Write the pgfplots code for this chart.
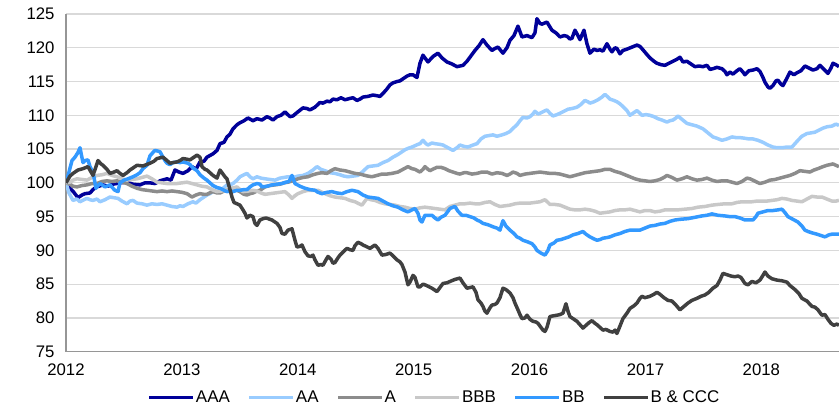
\documentclass[border=0pt]{standalone}
\usepackage{fontspec}
\setmainfont{Liberation Sans}
\usepackage{pgfplots}
\pgfplotsset{compat=1.18}
\definecolor{cAAA}{RGB}{0,0,153}
\definecolor{cAA}{RGB}{153,204,255}
\definecolor{cA}{RGB}{140,140,140}
\definecolor{cBBB}{RGB}{200,200,200}
\definecolor{cBB}{RGB}{51,153,255}
\definecolor{cB}{RGB}{64,64,64}
\definecolor{gridgray}{RGB}{217,217,217}
\definecolor{axisgray}{RGB}{150,150,150}
\begin{document}
\begin{tikzpicture}
\begin{axis}[
  at={(0,0)}, anchor=south west,
  scale only axis, width=773bp, height=337.7bp,
  xmin=2012, xmax=2018.67, ymin=75, ymax=125,
  x filter/.expression={2012+(x-66)/115.9},
  ytick={75,80,...,125}, xtick={2012,2013,2014,2015,2016,2017,2018},
  /pgf/number format/1000 sep={},
  /pgf/number format/assume math mode=true,
  ymajorgrids, grid style={color=gridgray, line width=1.2bp},
  axis x line*=bottom, axis y line*=left,
  axis line style={-, color=axisgray, line width=1.3bp},
  major tick length=0, tick style={draw=none},
  tick label style={font=\fontsize{16.8}{19}\selectfont},
  yticklabel style={xshift=-8bp},
  xticklabel style={yshift=-8.5bp},
  every axis plot/.append style={line width=3.5bp, line join=round, mark=none},
  legend columns=6,
  legend style={at={(0.476,-0.135)}, anchor=center, draw=none, fill=none,
    font=\fontsize{17}{19}\selectfont,
    /tikz/every even column/.append style={column sep=17bp},
    nodes={inner sep=0.8bp}},
  legend image code/.code={\draw[#1] (0bp,0bp) -- (44bp,0bp);},
]
\addplot[cAAA] coordinates {
(66,100) (70,99.2) (73.3,98.7) (78,97.8) (82,98.2) (85,98.4) (90,98.5) (93,99.0) (96.7,99.4) (103,99.7) (108,99.5) (113,99.8) (120,100.0) (127,100.1) (133,99.8) (140,99.7) (145,100.0) (150,100.0) (155,99.9) (160,100.3) (167,100.6) (171,100.4) (175,101.9) (179,101.6) (183,101.4) (188,101.8) (192,102.4) (196,102.0) (200,103.1) (204,103.2) (207,103.8) (213,104.3) (217,104.8) (220,105.8) (224,106.0) (227,106.8) (230,107.2) (233,108.0) (237,108.6) (240,108.9) (244,109.2) (248,109.6) (253,109.2) (257,109.5) (262,109.3) (267,109.8) (270,109.6) (273,109.3) (277,109.8) (281,110.0) (285,110.5) (290,109.8) (293,109.9) (297,110.4) (303,111.1) (307,111.0) (310,110.8) (315,111.2) (320,111.9) (323,111.8) (327,112.1) (330,112.0) (333,112.4) (337,112.3) (341,112.6) (345,112.3) (350,112.5) (353,112.6) (357,112.2) (360,112.4) (363,112.7) (368,112.8) (373,113.0) (377,112.9) (380,112.8) (384,113.4) (387,113.9) (390,114.5) (393,114.8) (397,115.0) (400,115.1) (403,115.4) (407,115.8) (410,116.0) (413,116.0) (417,115.6) (420,117.7) (423,118.9) (428,117.9) (433,118.7) (438,119.2) (442,118.5) (447,117.9) (452,117.6) (457,117.2) (460,117.3) (463,117.4) (467,118.0) (470,118.6) (475,119.6) (479,120.3) (483,121.2) (487,120.4) (492,119.6) (495,119.9) (498,120.1) (503,119.2) (507,120.0) (510,121.1) (514,121.8) (518,123.2) (522,121.6) (527,121.8) (532,121.5) (535,122.2) (537,124.3) (540,123.6) (542,123.5) (547,123.8) (552,122.6) (556,122.2) (560,121.6) (564,121.8) (567,121.7) (570,121.3) (572,121.4) (575,122.6) (578,121.8) (580,121.2) (584,122.6) (587,120.6) (590,119.2) (594,119.8) (597,119.6) (600,119.7) (603,119.5) (607,120.6) (610,119.8) (612,119.4) (615,120.0) (617,119.9) (620,119.1) (623,119.6) (627,119.8) (632,120.1) (637,120.4) (640,120.2) (643,119.7) (647,119.0) (650,118.5) (654,118.0) (657,117.7) (661,117.5) (665,117.4) (669,117.7) (673,118.0) (677,118.3) (680,118.6) (683,117.9) (687,118.0) (690,117.7) (695,117.2) (699,117.3) (703,117.2) (707,117.4) (710,116.8) (713,116.9) (717,117.1) (722,116.9) (725,116.5) (727,116.0) (730,116.4) (733,116.1) (737,116.6) (740,116.9) (743,116.4) (745,116.0) (749,116.6) (753,116.7) (757,116.9) (760,116.5) (763,115.6) (765,114.9) (768,114.2) (770,114.0) (773,114.4) (776,115.1) (778,115.2) (781,114.6) (783,114.4) (787,115.5) (790,116.4) (794,116.0) (797,116.3) (801,116.6) (805,117.3) (809,117.0) (813,116.7) (817,116.9) (820,117.4) (824,116.8) (828,116.2) (831,117.0) (833,117.7) (836,117.5) (839,117.2)
};
\addlegendentry{AAA}
\addplot[cAA] coordinates {
(66,100) (69,98.5) (73,97.4) (77,97.6) (80,97.2) (84,97.5) (87,97.7) (90,97.5) (93,97.4) (97,97.6) (100,97.2) (105,97.5) (110,97.9) (114,97.8) (118,97.7) (122,97.3) (127,96.9) (130,97.3) (133,97.4) (137,97.0) (142,96.9) (147,96.7) (152,96.9) (157,96.8) (162,96.9) (167,96.7) (172,96.5) (177,96.4) (180,96.6) (183,96.5) (188,96.9) (193,97.2) (196,97.0) (200,97.5) (204,97.9) (207,98.2) (210,98.4) (213,98.7) (217,98.7) (220,98.9) (224,99.3) (227,99.7) (230,99.7) (233,99.9) (237,100.4) (240,100.9) (244,101.2) (247,101.4) (250,100.9) (253,100.6) (257,100.9) (261,100.7) (265,100.6) (270,100.5) (275,100.4) (280,100.7) (284,100.8) (288,100.9) (293,100.8) (298,101.0) (303,101.1) (308,101.4) (313,101.9) (317,102.4) (321,102.0) (325,101.8) (330,101.5) (335,101.4) (340,101.2) (344,101.0) (348,100.9) (353,101.0) (358,101.1) (363,101.7) (368,102.4) (373,102.5) (378,102.6) (383,103.0) (388,103.3) (393,103.8) (398,104.2) (402,104.6) (405,104.9) (408,105.1) (412,105.3) (415,105.5) (418,105.7) (420,105.8) (423,106.3) (426,105.8) (428,105.6) (432,105.9) (435,105.8) (440,105.7) (443,105.6) (448,105.2) (453,104.8) (457,105.2) (460,105.6) (464,105.4) (468,105.3) (473,105.6) (477,105.8) (481,106.5) (485,106.9) (489,107.0) (493,107.1) (497,106.9) (502,107.1) (506,107.3) (510,107.6) (514,108.2) (517,108.6) (520,109.2) (523,109.7) (527,109.6) (530,109.8) (533,110.2) (535,110.6) (538,110.2) (540,110.3) (544,110.6) (547,110.8) (550,110.3) (553,109.9) (557,110.1) (560,110.3) (564,110.6) (568,110.9) (572,111.0) (577,111.2) (581,111.6) (585,112.2) (588,112.0) (590,111.8) (594,112.0) (598,112.3) (602,112.7) (605,113.1) (608,112.7) (610,112.4) (614,112.2) (617,112.0) (620,111.7) (623,111.3) (627,110.7) (630,110.0) (634,110.4) (637,110.7) (640,110.3) (642,110.0) (646,110.1) (650,110.0) (654,109.8) (658,109.5) (662,109.3) (667,109.0) (670,109.2) (673,109.3) (676,109.6) (678,109.9) (682,109.4) (687,108.8) (692,108.6) (697,108.4) (700,108.2) (703,108.0) (708,107.4) (713,106.8) (717,106.6) (722,106.3) (727,106.5) (732,106.8) (736,106.7) (740,106.7) (745,106.6) (749,106.5) (753,106.5) (758,106.3) (763,106.0) (768,105.6) (773,105.3) (777,105.2) (782,105.2) (787,105.3) (792,105.3) (795,105.8) (798,106.3) (802,106.9) (807,107.3) (811,107.4) (815,107.5) (819,107.8) (823,108.1) (827,108.3) (832,108.4) (836,108.7) (839,108.5)
};
\addlegendentry{AA}
\addplot[cA] coordinates {
(66,100) (70,99.8) (73,99.5) (77,99.4) (82,99.6) (87,99.7) (92,99.9) (97,99.9) (102,100.2) (107,100.3) (112,100.2) (117,100.3) (122,100.1) (127,99.9) (132,99.5) (137,99.2) (142,99.0) (147,98.9) (152,98.8) (157,98.7) (162,98.8) (167,98.7) (172,98.8) (177,98.7) (182,98.6) (187,98.4) (190,98.1) (192,97.9) (196,98.2) (200,98.4) (204,98.3) (207,98.3) (211,98.6) (213,98.7) (217,98.5) (220,98.5) (224,98.8) (227,98.9) (230,99.1) (233,99.2) (237,98.9) (240,98.7) (244,98.3) (247,98.2) (250,98.4) (253,98.5) (257,98.8) (260,98.9) (263,99.2) (265,99.4) (270,99.6) (275,99.7) (280,99.8) (284,100.0) (288,100.1) (293,100.3) (298,100.6) (303,100.8) (308,100.9) (313,101.2) (318,101.4) (322,101.5) (327,101.4) (331,101.8) (335,102.1) (340,101.9) (345,101.8) (350,101.6) (355,101.4) (360,101.3) (365,101.1) (368,101.0) (372,100.9) (377,101.1) (382,101.3) (387,101.3) (392,101.4) (398,101.6) (403,102.0) (408,102.4) (412,102.1) (415,102.0) (420,101.6) (423,102.0) (425,102.4) (428,102.0) (430,101.8) (434,102.1) (437,102.3) (441,102.3) (445,102.1) (449,101.8) (453,101.6) (457,101.4) (460,101.3) (464,101.5) (467,101.5) (472,101.3) (477,101.4) (482,101.6) (487,101.6) (492,101.3) (497,101.5) (502,101.4) (507,101.1) (510,101.3) (513,101.6) (517,101.4) (520,101.1) (525,101.3) (530,101.4) (535,101.5) (540,101.6) (545,101.5) (550,101.4) (555,101.4) (560,101.3) (565,101.1) (570,100.9) (575,101.1) (580,101.3) (585,101.5) (590,101.6) (595,101.7) (600,101.8) (605,102.0) (610,102.0) (615,101.7) (620,101.5) (625,101.2) (630,100.9) (635,100.6) (640,100.4) (645,100.3) (650,100.2) (655,100.3) (660,100.5) (664,100.8) (667,101.1) (672,100.8) (677,100.4) (682,100.6) (687,100.9) (692,100.6) (697,100.4) (702,100.5) (707,100.7) (712,100.4) (717,100.2) (722,100.3) (727,100.3) (732,100.1) (737,99.9) (742,100.2) (747,100.7) (750,100.6) (753,100.4) (757,100.1) (760,99.9) (765,100.1) (770,100.4) (775,100.5) (780,100.7) (785,100.9) (790,101.1) (795,101.4) (800,101.8) (805,101.7) (810,101.6) (814,101.9) (818,102.1) (823,102.4) (827,102.6) (830,102.7) (833,102.8) (836,102.6) (839,102.4)
};
\addlegendentry{A}
\addplot[cBBB] coordinates {
(66,100) (70,100.1) (73,100.4) (77,100.6) (82,100.5) (87,100.4) (92,100.8) (97,101.1) (102,101.2) (107,101.4) (112,101.1) (117,100.9) (122,100.6) (127,100.4) (132,100.5) (137,100.6) (142,100.8) (147,101.0) (152,100.6) (157,100.1) (162,100.0) (167,99.9) (172,99.9) (177,99.9) (182,100.0) (187,100.1) (192,99.9) (197,99.7) (202,99.5) (207,99.4) (212,99.0) (217,98.7) (222,98.8) (227,98.9) (232,99.2) (237,99.4) (240,99.0) (243,98.7) (248,98.8) (253,98.9) (257,98.8) (261,98.5) (265,98.3) (270,98.4) (275,98.5) (280,98.6) (285,98.7) (289,98.2) (292,97.7) (295,98.1) (298,98.4) (303,98.7) (308,98.9) (313,98.9) (318,98.9) (322,98.6) (325,98.4) (330,98.1) (335,97.9) (340,97.8) (345,97.7) (350,97.4) (355,97.2) (359,96.9) (362,96.7) (365,97.3) (367,97.7) (371,97.5) (375,97.4) (380,97.1) (385,96.9) (390,96.8) (395,96.7) (400,96.5) (405,96.4) (410,96.2) (415,96.1) (420,96.3) (425,96.4) (430,96.3) (435,96.2) (440,96.1) (445,96.0) (450,96.5) (455,96.7) (460,96.9) (465,96.9) (470,97.0) (475,96.9) (480,96.9) (485,97.1) (490,97.2) (495,96.8) (500,96.5) (505,96.6) (510,96.7) (515,96.9) (520,97.0) (525,97.0) (530,97.0) (535,97.1) (540,97.2) (545,97.5) (548,97.1) (550,96.8) (555,96.8) (560,96.7) (565,96.4) (570,96.1) (575,96.0) (580,96.0) (585,96.1) (590,96.0) (595,95.8) (600,95.5) (605,95.6) (610,95.7) (615,95.9) (620,96.0) (625,96.0) (630,96.1) (635,95.9) (640,95.7) (645,95.9) (650,95.9) (655,95.7) (660,95.8) (665,96.0) (670,96.0) (678,96.0) (685,96.1) (692,96.2) (698,96.4) (705,96.5) (712,96.7) (718,96.8) (725,96.9) (732,96.9) (737,97.1) (742,97.2) (747,97.2) (752,97.2) (757,97.3) (762,97.3) (767,97.3) (772,97.4) (777,97.5) (782,97.7) (787,97.6) (792,97.4) (797,97.3) (802,97.2) (807,97.6) (812,98.0) (817,97.9) (822,97.9) (827,97.6) (832,97.3) (836,97.3) (839,97.4)
};
\addlegendentry{BBB}
\addplot[cBB] coordinates {
(66,100) (69,101.6) (72,103.3) (75,103.8) (78,104.5) (80,105.2) (83,103.0) (85,103.3) (88,103.4) (90,102.4) (93,101.6) (96,99.2) (98,99.6) (100,99.9) (103,99.6) (105,99.4) (110,99.7) (113,99.2) (115,98.9) (118,98.7) (120,100.0) (124,100.4) (128,100.6) (133,100.9) (137,101.2) (140,101.5) (143,102.1) (147,102.6) (150,104.0) (153,104.5) (155,104.8) (158,104.7) (160,104.6) (163,103.8) (165,103.3) (167,102.9) (170,102.7) (173,103.0) (177,103.1) (180,103.0) (183,103.1) (188,102.9) (190,102.7) (193,102.2) (197,101.8) (200,101.2) (204,100.7) (207,100.4) (210,100.0) (213,99.6) (217,99.3) (220,99.2) (224,98.9) (227,98.7) (230,98.8) (233,98.7) (237,98.9) (240,98.9) (244,99.0) (247,99.0) (250,99.4) (253,99.7) (257,99.9) (260,99.8) (262,99.4) (267,99.5) (272,99.7) (277,99.8) (282,99.9) (286,100.1) (289,100.2) (292,101.1) (295,99.9) (300,99.5) (305,99.2) (310,99.0) (315,98.9) (318,98.6) (322,98.4) (327,98.6) (332,98.7) (337,98.5) (342,98.4) (347,98.7) (352,98.9) (355,98.8) (358,98.7) (363,98.2) (368,97.9) (373,97.8) (378,97.7) (383,97.3) (388,96.9) (393,96.6) (398,96.4) (403,96.0) (408,95.7) (412,96.0) (415,96.2) (418,95.5) (420,94.5) (422,94.2) (425,95.2) (428,95.2) (432,95.2) (435,94.8) (438,94.5) (441,94.9) (445,95.2) (450,96.2) (453,96.4) (455,96.5) (458,95.8) (462,95.2) (466,95.2) (470,95.0) (474,94.8) (477,94.5) (480,94.3) (483,94.0) (488,93.8) (493,93.5) (497,93.3) (500,93.0) (503,94.4) (506,93.6) (510,93.0) (514,92.5) (517,92.0) (520,91.8) (523,91.5) (527,91.3) (532,91.0) (535,90.5) (537,90.0) (541,89.6) (545,89.3) (548,90.0) (550,90.8) (554,91.1) (557,91.5) (561,91.6) (565,91.8) (569,92.0) (573,92.3) (578,92.5) (583,92.8) (586,92.4) (590,92.0) (594,91.7) (597,91.5) (600,91.6) (603,91.8) (607,91.9) (610,92.0) (615,92.3) (620,92.5) (625,92.8) (630,93.0) (635,93.0) (640,93.0) (645,93.3) (650,93.6) (655,93.7) (660,93.9) (665,94.0) (670,94.3) (675,94.5) (680,94.6) (688,94.7) (695,94.9) (702,95.1) (707,95.2) (712,95.4) (718,95.2) (725,95.1) (730,95.0) (735,95.0) (740,94.8) (745,94.5) (749,94.5) (753,94.5) (756,95.0) (758,95.5) (763,95.7) (768,95.9) (773,95.9) (778,96.0) (782,96.1) (785,95.6) (788,95.0) (793,94.6) (798,94.2) (802,93.6) (805,93.0) (808,92.8) (812,92.6) (817,92.4) (821,92.2) (825,92.0) (829,92.3) (832,92.4) (836,92.4) (839,92.4)
};
\addlegendentry{BB}
\addplot[cB] coordinates {
(66,100) (70,101.0) (73,101.4) (78,101.9) (83,102.1) (88,102.4) (93,101.1) (96,102.4) (98,103.3) (101,102.8) (103,102.6) (107,102.0) (110,101.4) (114,101.6) (117,101.8) (120,101.4) (123,101.1) (127,101.5) (130,101.9) (134,102.3) (137,102.6) (143,102.5) (150,102.9) (154,103.2) (157,103.6) (160,103.7) (163,103.8) (167,103.3) (170,102.9) (173,103.0) (177,103.1) (180,103.3) (183,103.6) (187,103.5) (190,103.4) (194,103.8) (197,104.1) (200,103.8) (202,102.4) (205,102.0) (207,101.9) (210,101.5) (213,101.1) (217,100.7) (220,101.9) (222,101.5) (225,100.9) (227,100.6) (230,99.0) (232,97.9) (234,97.1) (237,96.9) (240,96.7) (243,96.0) (245,95.5) (247,94.8) (250,95.2) (253,95.0) (255,94.0) (257,93.7) (260,94.5) (263,94.7) (266,94.8) (268,94.7) (272,94.5) (275,94.2) (277,94.0) (280,93.4) (282,92.5) (285,92.4) (288,93.0) (292,93.2) (295,91.5) (297,90.5) (300,90.6) (302,90.8) (305,89.8) (308,89.2) (311,89.1) (313,89.3) (315,88.6) (318,87.8) (321,87.9) (323,87.8) (326,88.6) (328,89.1) (331,88.7) (333,88.1) (335,88.2) (338,88.9) (340,89.3) (344,89.9) (347,90.3) (350,90.1) (353,90.0) (355,90.7) (358,91.2) (361,91.0) (363,90.8) (366,90.6) (370,90.3) (373,90.6) (375,90.8) (378,90.3) (382,89.3) (386,89.4) (390,89.6) (393,89.2) (397,88.6) (400,88.3) (402,87.9) (405,86.8) (408,84.9) (410,85.3) (413,86.3) (415,86.0) (418,84.6) (420,84.6) (423,85.0) (425,84.9) (428,84.7) (432,84.4) (435,84.1) (437,83.9) (440,84.5) (443,85.1) (447,85.2) (450,85.4) (455,85.7) (460,85.9) (463,85.2) (467,84.4) (470,84.5) (473,84.6) (476,83.8) (478,82.7) (481,82.2) (483,81.7) (485,81.0) (487,80.7) (490,81.5) (492,81.9) (495,82.0) (497,82.2) (500,83.0) (503,84.4) (506,84.2) (510,83.7) (513,83.0) (515,82.2) (518,81.2) (520,80.5) (522,79.9) (525,80.0) (527,80.4) (530,79.8) (533,79.5) (536,79.4) (538,79.2) (541,78.6) (543,78.2) (545,78.0) (547,78.6) (550,80.2) (553,80.3) (557,80.4) (560,80.5) (563,80.7) (566,82.1) (568,81.0) (570,80.2) (574,79.8) (577,79.5) (580,79.0) (583,78.5) (586,78.9) (589,79.3) (592,79.6) (595,79.2) (597,79.0) (600,78.6) (603,78.2) (606,78.3) (610,78.0) (613,77.9) (615,78.2) (617,77.7) (620,78.8) (623,79.9) (627,80.7) (630,81.4) (634,81.8) (637,82.2) (640,82.9) (642,83.2) (645,83.0) (650,83.2) (654,83.5) (657,83.8) (660,83.5) (664,83.0) (668,82.6) (672,82.5) (676,81.9) (680,81.2) (684,81.7) (688,82.2) (692,82.6) (697,82.9) (701,83.2) (705,83.4) (709,83.8) (713,84.4) (717,84.8) (720,85.6) (723,86.6) (727,86.4) (731,86.2) (735,86.1) (738,86.2) (741,86.0) (745,85.1) (748,84.9) (752,85.4) (756,85.2) (760,85.6) (763,86.3) (765,86.8) (768,86.2) (772,85.8) (777,85.6) (782,85.5) (787,85.3) (790,84.8) (795,84.2) (799,83.6) (802,82.9) (807,82.5) (812,81.7) (815,81.6) (818,81.2) (822,80.4) (825,80.5) (828,79.8) (831,79.2) (834,78.9) (837,79.1) (839,78.9)
};
\addlegendentry{B \& CCC}
\end{axis}
\pgfresetboundingbox
\path[use as bounding box] (-66bp,-55.3bp) rectangle (773bp,351.7bp);
\end{tikzpicture}
\end{document}
